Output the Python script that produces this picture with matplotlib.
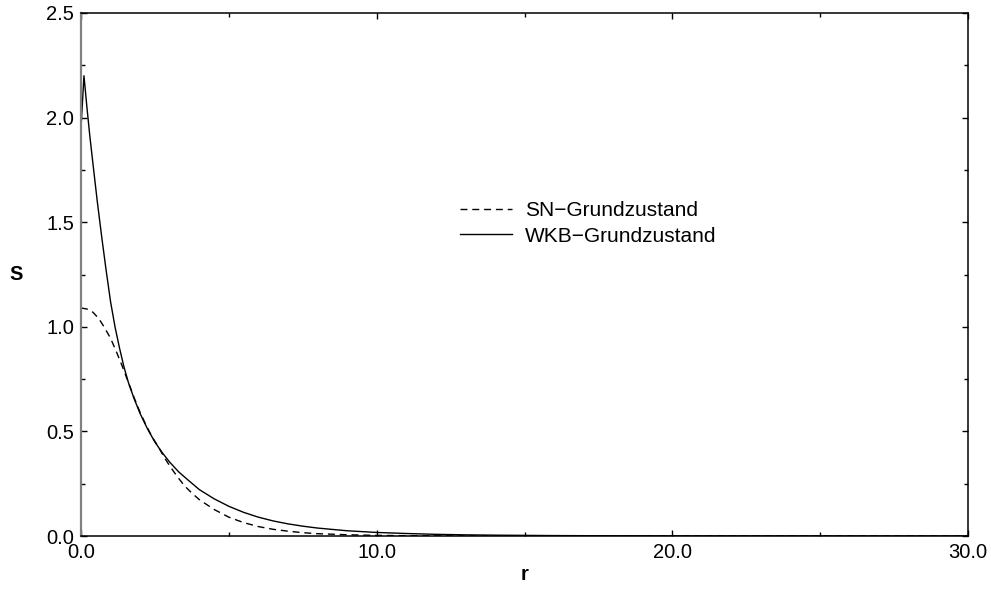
import matplotlib
matplotlib.use("Agg")
import matplotlib.pyplot as plt
from matplotlib.ticker import MultipleLocator, FormatStrFormatter

plt.rcParams['font.family'] = ['Liberation Sans', 'DejaVu Sans']

# WKB ground state (solid)
r_wkb = [0.0, 0.1, 0.2, 0.3, 0.42, 0.55, 0.7, 0.85, 1.0, 1.15, 1.3, 1.45, 1.6, 1.8,
         2.0, 2.25, 2.5, 2.75, 3.0, 3.3, 3.6, 4.0, 4.5, 5.0, 5.5, 6.0, 6.5, 7.0, 7.5,
         8.0, 9.0, 10.0, 11.0, 12.0, 13.0, 14.0, 16.0, 18.0, 20.0, 25.0, 30.0]
s_wkb = [1.95, 2.20, 2.05, 1.91, 1.76, 1.60, 1.43, 1.27, 1.12, 1.00, 0.90, 0.81, 0.735, 0.655,
         0.585, 0.512, 0.449, 0.398, 0.353, 0.307, 0.27, 0.222, 0.178, 0.142, 0.113, 0.09, 0.072, 0.058, 0.047,
         0.038, 0.025, 0.017, 0.012, 0.008, 0.0055, 0.004, 0.002, 0.001, 0.0005, 0.0001, 0.0]

# SN ground state (dashed)
r_sn = [0.0, 0.2, 0.4, 0.6, 0.8, 1.0, 1.2, 1.4, 1.6, 1.8, 2.0, 2.2, 2.4, 2.6, 2.8, 3.0,
        3.25, 3.5, 3.75, 4.0, 4.5, 5.0, 5.5, 6.0, 6.5, 7.0, 7.5, 8.0, 9.0, 10.0, 11.0,
        12.0, 14.0, 16.0, 30.0]
s_sn = [1.09, 1.085, 1.07, 1.04, 0.995, 0.945, 0.88, 0.81, 0.735, 0.66, 0.59, 0.53, 0.475, 0.43, 0.38, 0.335,
        0.285, 0.24, 0.205, 0.174, 0.127, 0.09, 0.064, 0.045, 0.032, 0.023, 0.016, 0.011, 0.006, 0.003, 0.0015,
        0.0007, 0.0002, 0.0, 0.0]

labels = ["SN\u2212Grundzustand", "WKB\u2212Grundzustand"]

fig = plt.figure(figsize=(9.91, 5.94), dpi=100)
ax = fig.add_axes([81/991, 1-536/594, (968-81)/991, (536-13)/594])

ax.plot(r_sn, s_sn, color='black', lw=1.0, dashes=(5, 3.5), label=labels[0])
ax.plot(r_wkb, s_wkb, color='black', lw=1.0, label=labels[1])

ax.set_xlim(0, 30)
ax.set_ylim(0, 2.5)
ax.xaxis.set_major_locator(MultipleLocator(10))
ax.xaxis.set_minor_locator(MultipleLocator(5))
ax.yaxis.set_major_locator(MultipleLocator(0.5))
ax.yaxis.set_minor_locator(MultipleLocator(0.25))
ax.xaxis.set_major_formatter(FormatStrFormatter('%.1f'))
ax.yaxis.set_major_formatter(FormatStrFormatter('%.1f'))
ax.tick_params(which='both', direction='in', top=True, right=True, labelsize=14.5, width=1.0)
ax.tick_params(which='major', length=4.5, pad=5)
ax.tick_params(which='minor', length=3)

for s in ['top', 'bottom', 'right']:
    ax.spines[s].set_linewidth(1.1)
    ax.spines[s].set_color('black')
ax.spines['left'].set_linewidth(1.6)
ax.spines['left'].set_color('#808080')

ax.set_xlabel('r', fontsize=14.5, fontweight='bold', labelpad=2)
ax.set_ylabel('S', fontsize=14.5, fontweight='bold', rotation=0, labelpad=22, va='center')

leg = ax.legend(loc='center left', bbox_to_anchor=((460 - 81) / 887, (536 - 223.5) / 523),
                frameon=False, fontsize=15, handlelength=2.5, handletextpad=0.6,
                labelspacing=0.3, borderpad=0, borderaxespad=0)

fig.savefig('out.png', dpi=100)
